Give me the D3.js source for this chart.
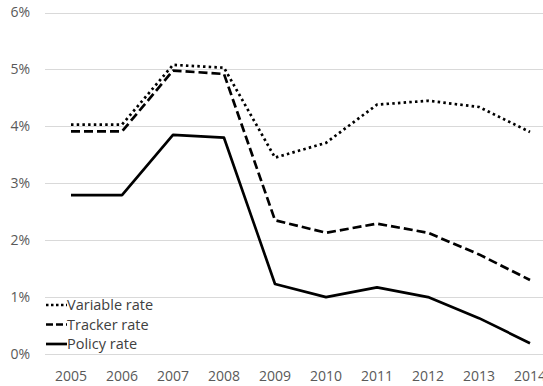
<!DOCTYPE html>
<html>
<head>
<meta charset="utf-8">
<script src="https://cdn.jsdelivr.net/npm/d3@7"></script>
<style>
  body { margin: 0; background: #fff; }
  svg { display: block; font-family: "Open Sans", Calibri, sans-serif; }
</style>
</head>
<body>
<div id="grafico"></div>
<script>
// datos
const anios = ["2005","2006","2007","2008","2009","2010","2011","2012","2013","2014"];
const variable = [4.03, 4.03, 5.08, 5.03, 3.45, 3.71, 4.38, 4.45, 4.34, 3.90];
const tracker  = [3.91, 3.91, 4.98, 4.92, 2.35, 2.13, 2.29, 2.13, 1.75, 1.30];
const policy   = [2.79, 2.79, 3.85, 3.80, 1.23, 1.00, 1.17, 1.00, 0.63, 0.19];
const ticksY = [0, 1, 2, 3, 4, 5, 6];

const series = [
  {nombre: "Variable rate", valores: variable, dash: "2.5,3.2", leyendaDash: "2.5,2.5"},
  {nombre: "Tracker rate", valores: tracker, dash: "9,4", leyendaDash: "7,3"},
  {nombre: "Policy rate", valores: policy, dash: null, leyendaDash: null}
];

const width = 543, height = 386;

const svg = d3.select("#grafico")
  .append("svg")
  .attr("width", width)
  .attr("height", height);

const x = d3.scaleBand()
  .domain(anios)
  .range([45.5, 555.5]);

const y = d3.scaleLinear()
  .domain([0, 6])
  .range([354, 12.5]);

// lineas de cuadricula
svg.append("g")
  .selectAll("line")
  .data(ticksY)
  .enter()
  .append("line")
  .attr("x1", 45)
  .attr("x2", width)
  .attr("y1", d => Math.round(y(d)) + 0.5)
  .attr("y2", d => Math.round(y(d)) + 0.5)
  .attr("stroke", "#d9d9d9")
  .attr("stroke-width", 1);

// eje Y
const ejeY = svg.append("g")
  .attr("transform", "translate(30,0)")
  .call(d3.axisLeft(y).tickValues(ticksY).tickSize(0).tickPadding(0).tickFormat(d => d + "%"));
ejeY.select(".domain").remove();
ejeY.selectAll("text")
  .attr("fill", "#595959")
  .attr("font-size", 14)
  .attr("font-family", "'Open Sans', sans-serif");

// eje X (el 2014 queda cortado en el borde, como en el original)
const ejeX = svg.append("g")
  .attr("transform", "translate(0,371)")
  .call(d3.axisBottom(x).tickSize(0).tickPadding(0));
ejeX.select(".domain").remove();
ejeX.selectAll("text")
  .attr("fill", "#595959")
  .attr("font-size", 14)
  .attr("font-family", "'Open Sans', sans-serif");

// lineas
const linea = d3.line()
  .x((d, i) => x(anios[i]) + x.bandwidth() / 2)
  .y(d => y(d));

svg.append("g")
  .selectAll("path")
  .data(series)
  .enter()
  .append("path")
  .attr("d", d => linea(d.valores))
  .attr("fill", "none")
  .attr("stroke", "#000")
  .attr("stroke-width", 2.7)
  .attr("stroke-linejoin", "round")
  .attr("stroke-dasharray", d => d.dash);

// leyenda
const leyenda = svg.append("g")
  .selectAll("g")
  .data(series)
  .enter()
  .append("g")
  .attr("transform", (d, i) => `translate(46, ${305 + i * 19.5})`);

leyenda.append("line")
  .attr("x1", 0)
  .attr("x2", 21)
  .attr("stroke", "#000")
  .attr("stroke-width", 2.7)
  .attr("stroke-dasharray", d => d.leyendaDash);

leyenda.append("text")
  .attr("x", 21)
  .attr("y", 5)
  .attr("fill", "#404040")
  .attr("font-size", 14.5)
  .text(d => d.nombre);
</script>
</body>
</html>
